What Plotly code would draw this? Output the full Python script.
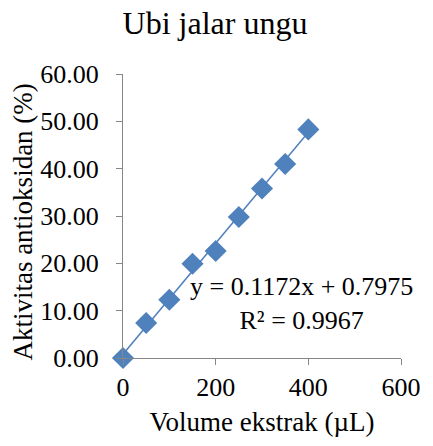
import plotly.graph_objects as go

volume = [0, 50, 100, 150, 200, 250, 300, 350, 400]
aktivitas = [0.0, 7.4, 12.3, 19.9, 22.6, 29.8, 35.8, 41.0, 48.3]
slope = 0.1172
intercept = 0.7975
trend_x = [0, 400]
trend_y = [slope * v + intercept for v in trend_x]
x_ticks = [0, 200, 400, 600]
y_ticks = [0, 10, 20, 30, 40, 50, 60]

color = "#4F81BD"
axis_gray = "#868686"
font = "Liberation Serif, Times New Roman, serif"

L, R, T, B = 123, 22, 74, 88
W, H = 433, 446

fig = go.Figure()
fig.add_trace(go.Scatter(x=trend_x, y=trend_y, mode="lines",
                         line=dict(color=color, width=1.5), showlegend=False))
fig.add_trace(go.Scatter(x=volume, y=aktivitas, mode="markers",
                         marker=dict(symbol="diamond", size=17, color=color),
                         showlegend=False, cliponaxis=False))
# empty trace so the tick-mark axis is rendered
fig.add_trace(go.Scatter(x=[], y=[], yaxis="y2", showlegend=False, hoverinfo="skip"))

fig.update_layout(
    width=W, height=H,
    margin=dict(l=L, r=R, t=T, b=B),
    paper_bgcolor="white", plot_bgcolor="white",
    font=dict(family=font, color="black", size=26),
    title=dict(text="Ubi jalar ungu", x=215 / W, xref="container", xanchor="center",
               y=1 - 23 / H, yref="container", yanchor="middle",
               font=dict(size=32, family=font)),
    xaxis=dict(range=[0, 600], tickvals=x_ticks, showgrid=False, zeroline=False,
               showline=True, linecolor=axis_gray, linewidth=1,
               ticks="outside", ticklen=6, tickcolor=axis_gray,
               title=dict(text="Volume ekstrak (µL)", font=dict(size=27), standoff=10),
               tickfont=dict(size=26)),
    yaxis=dict(range=[0, 60], tickvals=y_ticks, tickformat=".2f", showgrid=False, zeroline=False,
               showline=False, ticks="outside", ticklen=18, tickcolor="rgba(0,0,0,0)",
               tickfont=dict(size=26)),
    yaxis2=dict(range=[0, 60], tickvals=y_ticks, overlaying="y", side="left",
                showgrid=False, zeroline=False, showticklabels=False,
                showline=True, linecolor=axis_gray, linewidth=1,
                ticks="outside", ticklen=6, tickcolor=axis_gray),
)

fig.add_annotation(x=(19 - L) / (W - L - R), y=1 - (222 - T) / (H - T - B),
                   xref="paper", yref="paper",
                   showarrow=False, textangle=-90, xanchor="center", yanchor="middle",
                   text="Aktivitas antioksidan (%)", font=dict(size=27, family=font))

fig.add_annotation(x=(308 - L) / (W - L - R), y=1 - ((303.5 - T) / (H - T - B)),
                   xref="paper", yref="paper", showarrow=False,
                   xanchor="center", yanchor="middle",
                   text="y = 0.1172x + 0.7975<br>R² = 0.9967", align="center",
                   font=dict(size=26, family=font))

fig.write_html("out.html")
